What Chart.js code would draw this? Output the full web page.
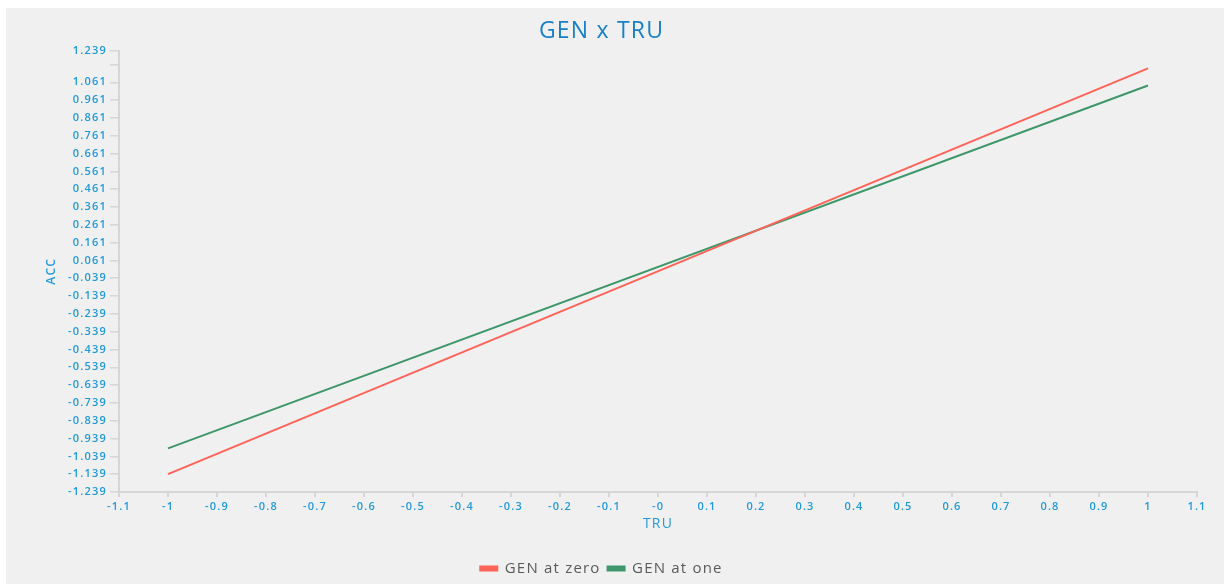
<!DOCTYPE html>
<html>
<head>
<meta charset="utf-8">
<script src="https://cdn.jsdelivr.net/npm/chart.js@4.4.1/dist/chart.umd.min.js"></script>
<style>
  html, body { margin: 0; padding: 0; background: #ffffff; }
  #wrap { position: absolute; left: 6px; top: 8px; width: 1218px; height: 576px; background: #f0f0f0; }
</style>
</head>
<body>
<div id="wrap"><canvas id="chart"></canvas></div>
<script>
// valores
const xValues = [-1, 1];
const genZero = [-1.139, 1.139];
const genOne = [-0.994, 1.043];

const xTicks = [-1.1, -1, -0.9, -0.8, -0.7, -0.6, -0.5, -0.4, -0.3, -0.2, -0.1, 0, 0.1, 0.2, 0.3, 0.4, 0.5, 0.6, 0.7, 0.8, 0.9, 1, 1.1];
const xTickLabels = ['-1.1', '-1', '-0.9', '-0.8', '-0.7', '-0.6', '-0.5', '-0.4', '-0.3', '-0.2', '-0.1', '-0', '0.1', '0.2', '0.3', '0.4', '0.5', '0.6', '0.7', '0.8', '0.9', '1', '1.1'];

const yTicks = [-1.239, -1.139, -1.039, -0.939, -0.839, -0.739, -0.639, -0.539, -0.439, -0.339, -0.239, -0.139, -0.039,
  0.061, 0.161, 0.261, 0.361, 0.461, 0.561, 0.661, 0.761, 0.861, 0.961, 1.061, 1.161, 1.239];
const yTickLabels = ['-1.239', '-1.139', '-1.039', '-0.939', '-0.839', '-0.739', '-0.639', '-0.539', '-0.439', '-0.339', '-0.239', '-0.139', '-0.039',
  '0.061', '0.161', '0.261', '0.361', '0.461', '0.561', '0.661', '0.761', '0.861', '0.961', '1.061', '', '1.239'];

const blue = '#2199d8';
const axisGray = '#d6d6d6';
const fontFam = '"Open Sans", "Noto Sans", sans-serif';

function toPoints(ys) {
  return xValues.map((x, i) => ({ x: x, y: ys[i] }));
}

// texto do original é mais largo: espaçamento entre letras no canvas
const spacing = {
  id: 'spacing',
  beforeUpdate(chart) { chart.ctx.letterSpacing = '1.2px'; },
  beforeDraw(chart) { chart.ctx.letterSpacing = '1.2px'; }
};

new Chart(document.getElementById('chart'), {
  type: 'scatter',
  plugins: [spacing],
  data: {
    datasets: [
      { label: 'GEN at zero', data: toPoints(genZero), showLine: true, borderColor: '#ff6257', backgroundColor: '#ff6257', borderWidth: 2, pointRadius: 0 },
      { label: 'GEN at one', data: toPoints(genOne), showLine: true, borderColor: '#3e9769', backgroundColor: '#3e9769', borderWidth: 2, pointRadius: 0 }
    ]
  },
  options: {
    responsive: true,
    maintainAspectRatio: false,
    animation: false,
    layout: { padding: { left: 0, right: 27, top: 0, bottom: -2 } },
    plugins: {
      title: {
        display: true, text: 'GEN x TRU', color: '#1780c6',
        font: { family: fontFam, size: 23, weight: '500' },
        padding: { top: 10, bottom: 5 }
      },
      legend: {
        position: 'bottom',
        labels: { color: '#5a5a5a', font: { family: fontFam, size: 15 }, boxWidth: 17, boxHeight: 4, padding: 7 }
      },
      tooltip: { enabled: false }
    },
    scales: {
      x: {
        type: 'linear', min: -1.1, max: 1.1,
        afterBuildTicks: s => { s.ticks = xTicks.map(v => ({ value: v })); },
        afterFit: s => { s.height = 62; },
        ticks: {
          color: blue, font: { family: fontFam, size: 11, weight: '600' }, padding: 3, maxRotation: 0,
          autoSkip: false,
          callback: (v, i) => xTickLabels[i]
        },
        grid: { drawOnChartArea: false, drawTicks: true, tickLength: 5, color: axisGray, lineWidth: 2 },
        border: { color: axisGray, width: 2 },
        title: { display: true, text: 'TRU', color: blue, font: { family: fontFam, size: 14 }, padding: { top: 4, bottom: 22 } }
      },
      y: {
        type: 'linear', min: -1.239, max: 1.239,
        afterBuildTicks: s => { s.ticks = yTicks.map(v => ({ value: v })); },
        afterFit: s => { s.width = 113; },
        ticks: {
          color: blue, font: { family: fontFam, size: 11, weight: '600' }, padding: 3,
          autoSkip: false,
          callback: (v, i) => yTickLabels[i]
        },
        grid: { drawOnChartArea: false, drawTicks: true, tickLength: 9, color: axisGray, lineWidth: 1.5 },
        border: { color: axisGray, width: 2 },
        title: { display: true, text: 'ACC', color: blue, font: { family: fontFam, size: 12, weight: '600' }, padding: { top: 38 } }
      }
    }
  }
});
</script>
</body>
</html>
